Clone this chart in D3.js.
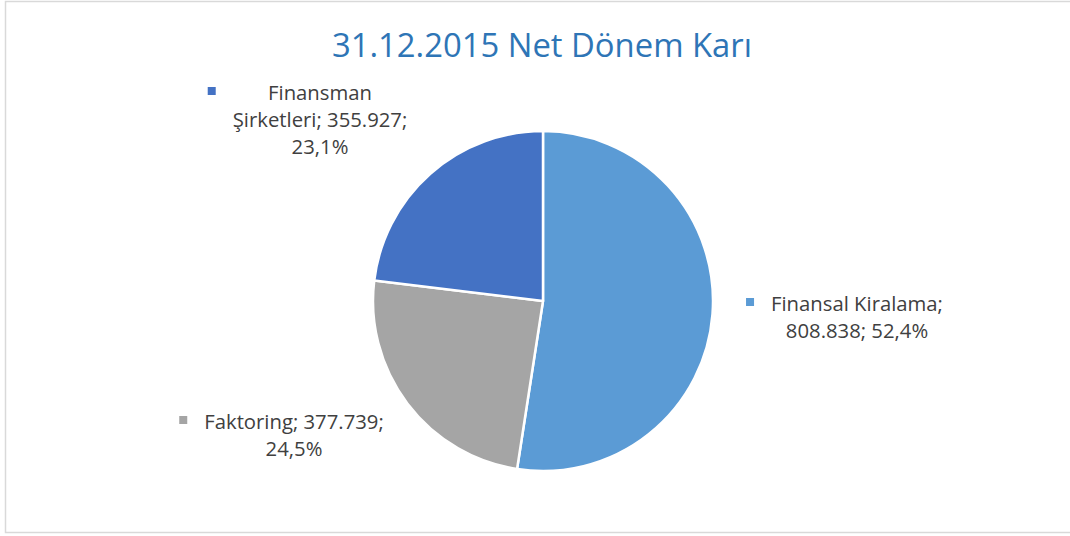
<!DOCTYPE html>
<html>
<head>
<meta charset="utf-8">
<script src="https://cdn.jsdelivr.net/npm/d3@7"></script>
<style>
  body { margin: 0; background: #fff; }
  svg { display: block; font-family: "Open Sans", "Noto Sans", sans-serif; }
</style>
</head>
<body>
<script>
// data
const categories = ['Finansal Kiralama', 'Faktoring', 'Finansman Şirketleri']
const values = [808838, 377739, 355927]
const colors = ['#5b9bd5', '#a5a5a5', '#4472c4']
const title = '31.12.2015 Net Dönem Karı'

const width = 1070, height = 536
const cx = 543, cy = 301, radius = 170

// where each label block is centred (x) and its first baseline (y), plus wrap width
const labelLayout = [
    {x: 857, y: 311, wrap: 185},
    {x: 294, y: 429, wrap: 210},
    {x: 320, y: 100, wrap: 195}
]
const lineHeight = 27
const labelSize = '20.3px'

const tr = d3.formatLocale({decimal: ',', thousands: '.', grouping: [3], currency: ['', '₺']})
const fmtValue = tr.format(',d')
const fmtPct = tr.format('.1%')

const svg = d3.select('body').append('svg')
    .attr('width', width)
    .attr('height', height)

// chart area border
svg.append('rect')
    .attr('x', 5.5).attr('y', 1.5)
    .attr('width', width).attr('height', 531)
    .attr('fill', '#fff')
    .attr('stroke', '#d9d9d9')
    .attr('stroke-width', 1.5)

svg.append('text')
    .attr('x', 542).attr('y', 57)
    .attr('text-anchor', 'middle')
    .attr('fill', '#2e75b6')
    .style('font-size', '32.8px')
    .text(title)

const total = d3.sum(values)
const pie = d3.pie().sort(null).value(d => d)
const arcs = pie(values)
const arc = d3.arc().innerRadius(0).outerRadius(radius)

const g = svg.append('g').attr('transform', `translate(${cx},${cy})`)

g.selectAll('path')
    .data(arcs)
    .enter()
    .append('path')
    .attr('d', arc)
    .attr('fill', (d, i) => colors[i])
    .attr('stroke', '#fff')
    .attr('stroke-width', 2.5)
    .attr('stroke-linejoin', 'round')

// labels: "name; value; pct" wrapped into lines, with a small colour square on the left
const measure = svg.append('text').style('font-size', labelSize).attr('opacity', 0)

arcs.forEach((d, i) => {
    const words = `${categories[i]}; ${fmtValue(values[i])}; ${fmtPct(values[i] / total)}`.split(' ')
    const lines = []
    let line = []
    words.forEach(w => {
        const test = line.concat(w).join(' ')
        measure.text(test)
        if (line.length && measure.node().getComputedTextLength() > labelLayout[i].wrap) {
            lines.push(line.join(' '))
            line = [w]
        } else {
            line.push(w)
        }
    })
    lines.push(line.join(' '))

    const lab = svg.append('g')
    let maxW = 0
    lines.forEach((l, j) => {
        const t = lab.append('text')
            .attr('x', labelLayout[i].x)
            .attr('y', labelLayout[i].y + j * lineHeight)
            .attr('text-anchor', 'middle')
            .attr('fill', '#404040')
            .style('font-size', labelSize)
            .text(l)
        maxW = Math.max(maxW, t.node().getComputedTextLength())
    })
    lab.append('rect')
        .attr('x', labelLayout[i].x - maxW / 2 - 25)
        .attr('y', labelLayout[i].y - 13)
        .attr('width', 8).attr('height', 8)
        .attr('fill', colors[i])
})
measure.remove()
</script>
</body>
</html>
